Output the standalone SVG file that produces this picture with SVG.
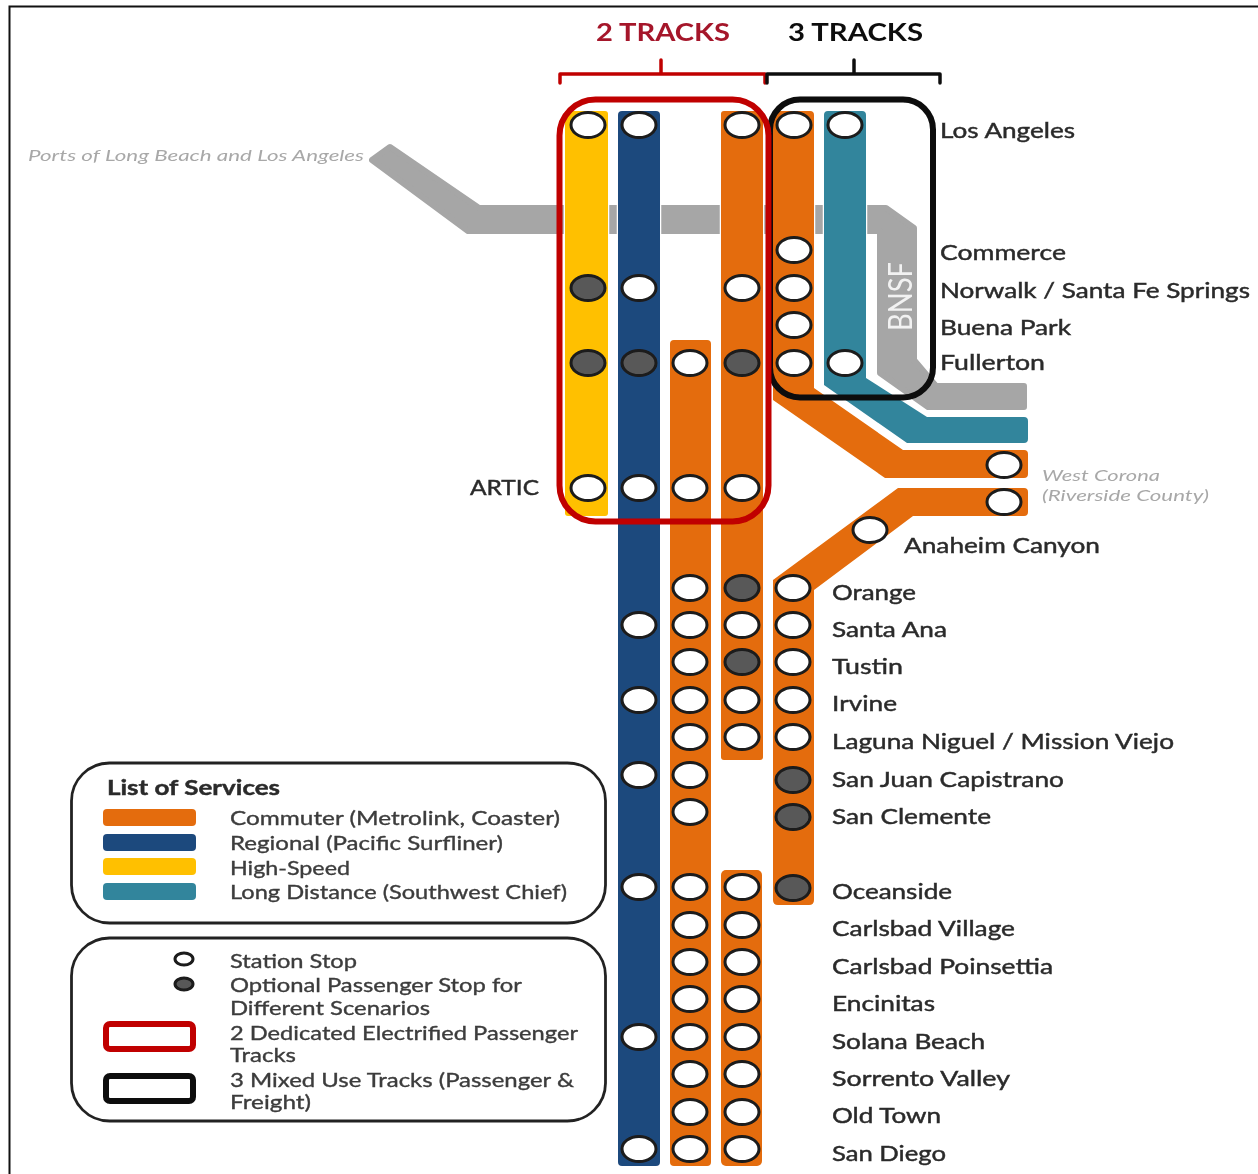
<svg xmlns="http://www.w3.org/2000/svg" width="1258" height="1174" viewBox="0 0 1258 1174">
<style>
text{font-family:Lato,"Open Sans","Liberation Sans",sans-serif;fill:#2b2b2b;font-size:21.5px;font-weight:400;stroke:#2b2b2b;stroke-width:.45}
.lg{font-size:19.5px;fill:#3c3c3c;stroke:#3c3c3c;stroke-width:.35}
.gi{font-size:15.5px;font-style:italic;fill:#a8a8a8;stroke:none}
.hd{font-size:25px;font-weight:700;stroke:none}
.tk{stroke:#fff;stroke-width:2.5;paint-order:stroke}
.or{fill:#e46c0a}.bl{fill:#1f497d}.ye{fill:#ffc000}.te{fill:#31859c}
.gr{fill:#a6a6a6;stroke:#a6a6a6;stroke-width:6;stroke-linejoin:round}
.w{fill:#fff;stroke:#1a1a1a;stroke-width:3}
.d{fill:#595959;stroke:#1a1a1a;stroke-width:3}
.box{fill:none;stroke:#222;stroke-width:2.8}
.br{fill:none;stroke-width:3.5;stroke-linecap:round;stroke-linejoin:round}
</style>
<defs>
<ellipse id="w" class="w" rx="17" ry="12.500"/>
<ellipse id="d" class="d" rx="17" ry="12.500"/>
<filter id="soft" x="0" y="0" width="100%" height="100%"><feGaussianBlur stdDeviation="0.55"/></filter>
</defs>
<rect width="1258" height="1174" fill="#fff"/>
<path d="M9.5 1174V6.5H1258" fill="none" stroke="#111" stroke-width="2"/>
<g filter="url(#soft)">
<g id="connectors">
<polygon class="gr" points="372,160 390,147 479,208 886,208 914,228 914,360 936,386 1024,386 1024,407 928,407 880,373 880,231 468,231"/>
<rect class="tk ye" x="565" y="111" width="43" height="405" rx="3"/>
<rect class="tk bl" x="618" y="111" width="42" height="1055" rx="4"/>
<rect class="tk or" x="670" y="340" width="41" height="826" rx="4"/>
<rect class="tk or" x="721" y="111" width="42" height="649" rx="3"/>
<rect class="tk or" x="721" y="870" width="41" height="296" rx="5"/>
<path class="tk te" d="M824 115Q824 111 828 111H862Q866 111 866 115V378L927 417H1024Q1028 417 1028 421V439Q1028 443 1024 443H907L824 385Z"/>
<path class="tk or" d="M773 115Q773 111 777 111H810Q814 111 814 115V388L903 450H1024Q1028 450 1028 454V474Q1028 478 1024 478H885L773 400Z"/>
<path class="tk or" d="M898 488H1024Q1028 488 1028 492V512Q1028 516 1024 516H913L814 590V900Q814 905 809 905H778Q773 905 773 900V580Z"/>
<rect x="770" y="99.500" width="163" height="298" rx="30" fill="none" stroke="#0a0a0a" stroke-width="6"/>
<rect x="559.500" y="99.500" width="209" height="422" rx="36" fill="none" stroke="#c00000" stroke-width="6"/>
<path class="br" stroke="#c00000" d="M560 83V74H765V83M661 74V60"/>
<path class="br" stroke="#111" d="M767 83V74H940V83M854 74V60"/>
</g>

<g id="bnsf"><text transform="translate(912,331) rotate(-90)" style="font-size:33px;fill:#f2f2f2;stroke:none" textLength="69" lengthAdjust="spacingAndGlyphs">BNSF</text></g>
<g id="ports"><text class="gi" x="28" y="161" textLength="336" lengthAdjust="spacingAndGlyphs">Ports of Long Beach and Los Angeles</text></g>
<g id="header-2-tracks"><text class="hd" x="596" y="41" style="fill:#a5172c" textLength="134" lengthAdjust="spacingAndGlyphs">2 TRACKS</text></g>
<g id="header-3-tracks"><text class="hd" x="788" y="41" style="fill:#111" textLength="135" lengthAdjust="spacingAndGlyphs">3 TRACKS</text></g>

<g id="los-angeles">
<use href="#w" x="588" y="125"/><use href="#w" x="639" y="125"/><use href="#w" x="742" y="125"/><use href="#w" x="794" y="125"/><use href="#w" x="845" y="125"/>
<text x="940" y="138" textLength="135" lengthAdjust="spacingAndGlyphs">Los Angeles</text></g>
<g id="commerce"><use href="#w" x="794" y="250"/>
<text x="940" y="260" textLength="126" lengthAdjust="spacingAndGlyphs">Commerce</text></g>
<g id="norwalk"><use href="#d" x="588" y="288"/><use href="#w" x="639" y="288"/><use href="#w" x="742" y="288"/><use href="#w" x="794" y="288"/>
<text x="940" y="298" textLength="310" lengthAdjust="spacingAndGlyphs">Norwalk / Santa Fe Springs</text></g>
<g id="buena-park"><use href="#w" x="794" y="325"/>
<text x="940" y="335" textLength="131" lengthAdjust="spacingAndGlyphs">Buena Park</text></g>
<g id="fullerton"><use href="#d" x="588" y="363"/><use href="#d" x="639" y="363"/><use href="#w" x="690" y="363"/><use href="#d" x="742" y="363"/><use href="#w" x="794" y="363"/><use href="#w" x="845" y="363"/>
<text x="940" y="370" textLength="105" lengthAdjust="spacingAndGlyphs">Fullerton</text></g>
<g id="west-corona"><use href="#w" x="1004" y="465"/><use href="#w" x="1004" y="502"/>
<text class="gi" x="1042" y="481" textLength="118" lengthAdjust="spacingAndGlyphs">West Corona</text>
<text class="gi" x="1042" y="501" textLength="167" lengthAdjust="spacingAndGlyphs">(Riverside County)</text></g>
<g id="artic"><use href="#w" x="588" y="488"/><use href="#w" x="639" y="488"/><use href="#w" x="690" y="488"/><use href="#w" x="742" y="488"/>
<text x="470" y="495" textLength="69" lengthAdjust="spacingAndGlyphs">ARTIC</text></g>
<g id="anaheim-canyon"><use href="#w" x="870" y="530"/>
<text x="904" y="553" textLength="196" lengthAdjust="spacingAndGlyphs">Anaheim Canyon</text></g>
<g id="orange"><use href="#w" x="690" y="588"/><use href="#d" x="742" y="588"/><use href="#w" x="793" y="588"/>
<text x="832" y="600" textLength="84" lengthAdjust="spacingAndGlyphs">Orange</text></g>
<g id="santa-ana"><use href="#w" x="639" y="625"/><use href="#w" x="690" y="625"/><use href="#w" x="742" y="625"/><use href="#w" x="793" y="625"/>
<text x="832" y="637" textLength="115" lengthAdjust="spacingAndGlyphs">Santa Ana</text></g>
<g id="tustin"><use href="#w" x="690" y="662"/><use href="#d" x="742" y="662"/><use href="#w" x="793" y="662"/>
<text x="832" y="674" textLength="71" lengthAdjust="spacingAndGlyphs">Tustin</text></g>
<g id="irvine"><use href="#w" x="639" y="700"/><use href="#w" x="690" y="700"/><use href="#w" x="742" y="700"/><use href="#w" x="793" y="700"/>
<text x="832" y="711" textLength="65" lengthAdjust="spacingAndGlyphs">Irvine</text></g>
<g id="laguna-niguel"><use href="#w" x="690" y="737"/><use href="#w" x="742" y="737"/><use href="#w" x="793" y="737"/>
<text x="832" y="749" textLength="342" lengthAdjust="spacingAndGlyphs">Laguna Niguel / Mission Viejo</text></g>
<g id="san-juan-capistrano"><use href="#w" x="639" y="775"/><use href="#w" x="690" y="775"/><use href="#d" x="793" y="780"/>
<text x="832" y="787" textLength="232" lengthAdjust="spacingAndGlyphs">San Juan Capistrano</text></g>
<g id="san-clemente"><use href="#w" x="690" y="812"/><use href="#d" x="793" y="817"/>
<text x="832" y="824" textLength="159" lengthAdjust="spacingAndGlyphs">San Clemente</text></g>
<g id="oceanside"><use href="#w" x="639" y="887"/><use href="#w" x="690" y="887"/><use href="#w" x="742" y="887"/><use href="#d" x="793" y="888"/>
<text x="832" y="899" textLength="120" lengthAdjust="spacingAndGlyphs">Oceanside</text></g>
<g id="carlsbad-village"><use href="#w" x="690" y="925"/><use href="#w" x="742" y="925"/>
<text x="832" y="936" textLength="183" lengthAdjust="spacingAndGlyphs">Carlsbad Village</text></g>
<g id="carlsbad-poinsettia"><use href="#w" x="690" y="962"/><use href="#w" x="742" y="962"/>
<text x="832" y="974" textLength="221" lengthAdjust="spacingAndGlyphs">Carlsbad Poinsettia</text></g>
<g id="encinitas"><use href="#w" x="690" y="999"/><use href="#w" x="742" y="999"/>
<text x="832" y="1011" textLength="103" lengthAdjust="spacingAndGlyphs">Encinitas</text></g>
<g id="solana-beach"><use href="#w" x="639" y="1037"/><use href="#w" x="690" y="1037"/><use href="#w" x="742" y="1037"/>
<text x="832" y="1049" textLength="153" lengthAdjust="spacingAndGlyphs">Solana Beach</text></g>
<g id="sorrento-valley"><use href="#w" x="690" y="1074"/><use href="#w" x="742" y="1074"/>
<text x="832" y="1086" textLength="178" lengthAdjust="spacingAndGlyphs">Sorrento Valley</text></g>
<g id="old-town"><use href="#w" x="690" y="1112"/><use href="#w" x="742" y="1112"/>
<text x="832" y="1123" textLength="109" lengthAdjust="spacingAndGlyphs">Old Town</text></g>
<g id="san-diego"><use href="#w" x="639" y="1149"/><use href="#w" x="690" y="1149"/><use href="#w" x="742" y="1149"/>
<text x="832" y="1161" textLength="114" lengthAdjust="spacingAndGlyphs">San Diego</text></g>

<g id="legend-services">
<rect class="box" x="71.500" y="763" width="534" height="160" rx="38"/>
<text x="107" y="795" style="font-weight:700;font-size:21px" textLength="173" lengthAdjust="spacingAndGlyphs">List of Services</text>
<rect class="or" x="103" y="809" width="93" height="17" rx="4"/>
<rect class="bl" x="103" y="834" width="93" height="17" rx="4"/>
<rect class="ye" x="103" y="858" width="93" height="17" rx="4"/>
<rect class="te" x="103" y="883" width="93" height="17" rx="4"/>
<text class="lg" x="230" y="825" textLength="330" lengthAdjust="spacingAndGlyphs">Commuter (Metrolink, Coaster)</text>
<text class="lg" x="230" y="850" textLength="273" lengthAdjust="spacingAndGlyphs">Regional (Pacific Surfliner)</text>
<text class="lg" x="230" y="875" textLength="120" lengthAdjust="spacingAndGlyphs">High-Speed</text>
<text class="lg" x="230" y="899" textLength="337" lengthAdjust="spacingAndGlyphs">Long Distance (Southwest Chief)</text>
</g>
<g id="legend-symbols">
<rect class="box" x="71.500" y="938" width="534" height="183" rx="38"/>
<ellipse class="w" cx="184" cy="959" rx="9" ry="6"/>
<ellipse class="d" cx="184" cy="984" rx="9" ry="6"/>
<rect x="106" y="1024" width="87" height="25" rx="4" fill="none" stroke="#c00000" stroke-width="6"/>
<rect x="106" y="1076" width="87" height="25" rx="4" fill="none" stroke="#0a0a0a" stroke-width="6"/>
<text class="lg" x="230" y="968" textLength="127" lengthAdjust="spacingAndGlyphs">Station Stop</text>
<text class="lg" x="230" y="992" textLength="292" lengthAdjust="spacingAndGlyphs">Optional Passenger Stop for</text>
<text class="lg" x="230" y="1015" textLength="200" lengthAdjust="spacingAndGlyphs">Different Scenarios</text>
<text class="lg" x="230" y="1040" textLength="348" lengthAdjust="spacingAndGlyphs">2 Dedicated Electrified Passenger</text>
<text class="lg" x="230" y="1062" textLength="66" lengthAdjust="spacingAndGlyphs">Tracks</text>
<text class="lg" x="230" y="1087" textLength="344" lengthAdjust="spacingAndGlyphs">3 Mixed Use Tracks (Passenger &amp;</text>
<text class="lg" x="230" y="1109" textLength="81" lengthAdjust="spacingAndGlyphs">Freight)</text>
</g>
</g>
</svg>
